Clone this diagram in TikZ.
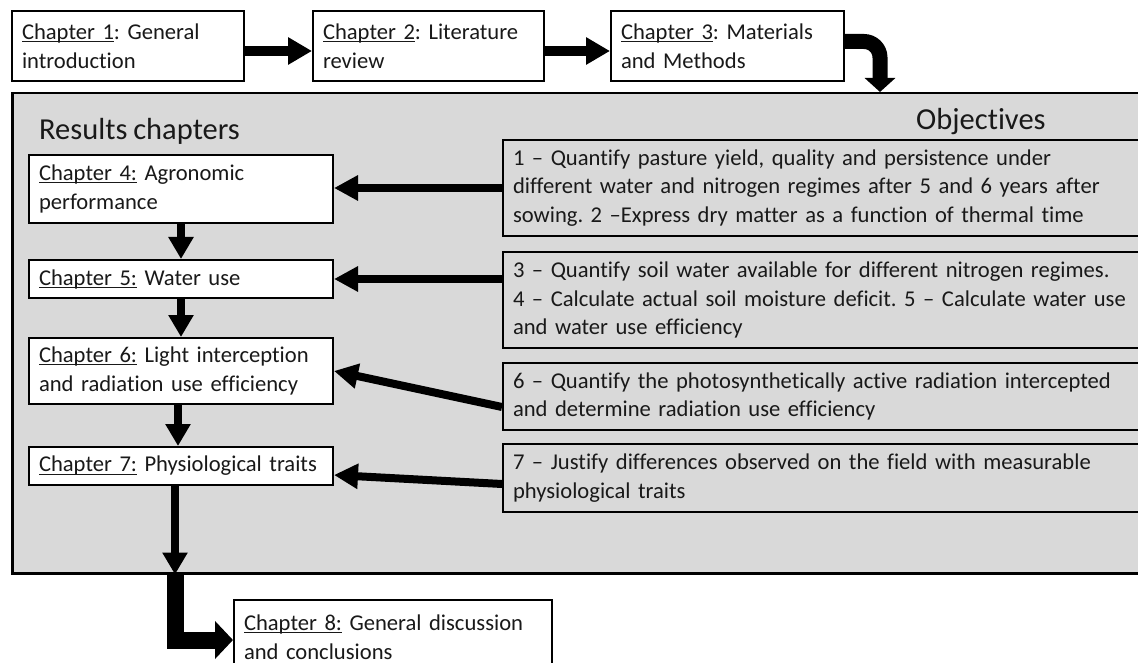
\documentclass[tikz,border=0pt]{standalone}
\usepackage{fontspec}
\setmainfont{Carlito}[Ligatures=NoCommon, WordSpace=0.85]
\usetikzlibrary{arrows.meta}
\definecolor{panelgray}{HTML}{D9D9D9}
\frenchspacing
\newcommand\fs{\fontsize{22.6}{28.5}\selectfont}
\newsavebox\ulbox
\newcommand\ulc[1]{\sbox\ulbox{#1}\rlap{\rule[-2.6pt]{\wd\ulbox}{1pt}}\usebox\ulbox}
\tikzset{
  box/.style={draw=black, line width=2pt, fill=white, inner xsep=10pt, inner ysep=0pt,
    align=left, anchor=north west, font=\fs, text=black!90},
  panelbox/.style={draw=black, line width=2.5pt, fill=panelgray, anchor=north west, inner sep=0pt},
  biglabel/.style={anchor=base west, inner sep=0pt, font=\fontsize{30.5}{36}\selectfont, text=black!90},
  harrow/.style={line width=10pt, -{Triangle[width=26pt,length=24pt]}},
  oarrow/.style={line width=8pt, -{Triangle[width=24pt,length=24pt]}},
  darrow/.style={line width=8pt, -{Triangle[width=24pt,length=22pt]}},
  carrow/.style={line width=15pt, -{Triangle[width=30pt,length=14pt]}, rounded corners=16pt},
  larrow/.style={line width=17pt, -{Triangle[width=37pt,length=18pt]}, line join=miter},
}
\begin{document}
\begin{tikzpicture}[x=1pt,y=-1pt]
\useasboundingbox (0,0) rectangle (1138,663);
% panel
\node[panelbox, minimum width=1150pt, minimum height=480pt] (panel) at (11,92) {};
\node[biglabel] (rlabel) at (39,140) {Results chapters};
\node[biglabel] (olabel) at (916,130) {Objectives};
% top chapters
\node[box, text width=212pt, minimum height=70pt] (ch1) at (11,10) {\ulc{Chapter 1}: General\\introduction};
\node[box, text width=211pt, minimum height=70pt] (ch2) at (312,10) {\ulc{Chapter 2}: Literature\\review};
\node[box, text width=213pt, minimum height=70pt] (ch3) at (610,10) {\ulc{Chapter 3}: Materials\\and Methods};
% results chapters
\node[box, text width=284pt, minimum height=68pt] (ch4) at (28,154) {\ulc{Chapter 4:} Agronomic\\performance};
\node[box, text width=284pt, minimum height=38pt] (ch5) at (28,259) {\ulc{Chapter 5:} Water use};
\node[box, text width=284pt, minimum height=66pt] (ch6) at (28,337) {\ulc{Chapter 6:} Light interception\\and radiation use efficiency};
\node[box, text width=284pt, minimum height=38pt] (ch7) at (28,446) {\ulc{Chapter 7:} Physiological traits};
% objectives
\node[box, fill=panelgray, text width=628pt, minimum height=96pt] (obj1) at (502,139)
  {1 -- Quantify pasture yield, quality and persistence under\\different water and nitrogen regimes after 5 and 6 years after\\sowing. 2 --Express dry matter as a function of thermal time};
\node[box, fill=panelgray, text width=628pt, minimum height=96pt] (obj2) at (502,251)
  {3 -- Quantify soil water available for different nitrogen regimes.\\4 -- Calculate actual soil moisture deficit. 5 -- Calculate water use\\and water use efficiency};
\node[box, fill=panelgray, text width=628pt, minimum height=67pt] (obj3) at (502,362)
  {6 -- Quantify the photosynthetically active radiation intercepted\\and determine radiation use efficiency};
\node[box, fill=panelgray, text width=628pt, minimum height=68pt] (obj4) at (502,443)
  {7 -- Justify differences observed on the field with measurable\\physiological traits};
% chapter 8
\node[box, text width=298pt, minimum height=74pt] (ch8) at (233,599) {\ulc{Chapter 8:} General discussion\\and conclusions};
% coordinates
\coordinate (c3in) at (880,92);
\coordinate (c8out) at (175,573);
% arrows
\draw[harrow] ([yshift=-5pt]ch1.east) -- ([yshift=-5pt]ch2.west);
\draw[harrow] ([yshift=-5pt]ch2.east) -- ([yshift=-5pt]ch3.west);
\draw[carrow] ([yshift=4.5pt]ch3.east) -| (c3in);
\draw[oarrow] (obj1.west) -- (obj1.west -| ch4.east);
\draw[oarrow] (ch5.east -| obj2.west) -- (ch5.east);
\draw[oarrow] ([yshift=-10.5pt]obj3.west) -- (ch6.east);
\draw[oarrow] ([yshift=-6pt]obj4.west) -- ([yshift=-9pt]ch7.east);
\draw[darrow] (ch4.south) -- (ch5.north);
\draw[darrow] (ch5.south) -- (ch6.north);
\draw[darrow] ([xshift=-3pt]ch6.south) -- ([xshift=-3pt]ch7.north);
\draw[darrow] ([xshift=-6pt]ch7.south) -- ([xshift=-6pt]ch7.south |- panel.south);
\draw[larrow] (c8out) |- ([yshift=-3pt]ch8.west);
\end{tikzpicture}
\end{document}
